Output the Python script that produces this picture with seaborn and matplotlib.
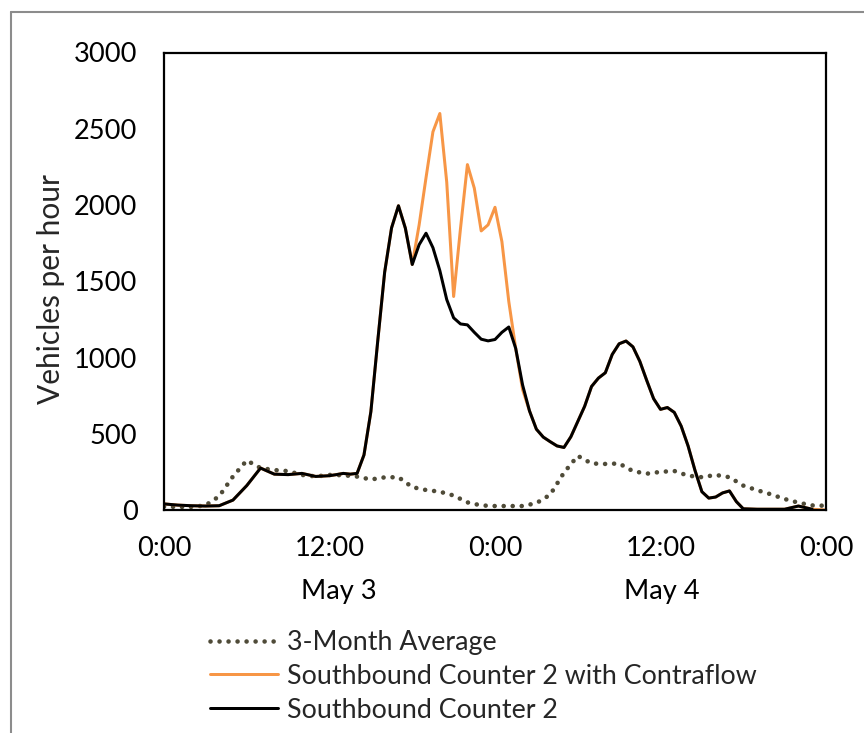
import numpy as np
import pandas as pd
import seaborn as sns
import matplotlib
matplotlib.use("Agg")
import matplotlib.pyplot as plt
from matplotlib.lines import Line2D
import matplotlib.transforms as mtransforms

# ---- data (hours since 0:00 May 3) ----
hours_avg = list(range(0, 49))
avg_3month = [22, 20, 20, 30, 90, 220, 325, 275, 262, 255,
              230, 220, 230, 228, 219, 200, 214, 215, 150, 131,
              120, 95, 50, 30, 26, 26, 26, 45, 100, 245,
              355, 305, 302, 305, 255, 238, 250, 256, 225, 215,
              230, 215, 160, 130, 103, 72, 48, 30, 28]

# counter readings: hourly, half-hourly between 12:30 May 3 and 18:00 May 4
hours_counter = (list(range(0, 13))
                 + [12.5 + 0.5 * i for i in range(60)]
                 + list(range(43, 49)))

counter2 = [40, 32, 28, 26, 28, 65, 160, 275, 235, 232, 240, 220, 225,
            232, 240, 235, 240, 361, 645, 1110, 1560, 1850, 1995,
            1848, 1610, 1740, 1815, 1720, 1570, 1380, 1260, 1220, 1214,
            1165, 1120, 1109, 1118, 1165, 1200, 1060, 820, 650, 530,
            478, 448, 420, 410, 480, 580, 680, 810, 865, 900,
            1020, 1090, 1108, 1070, 975, 850, 730, 660, 672, 640,
            550, 420, 260, 120, 78, 85, 112, 125, 55, 8,
            5, 5, 5, 26, 5, np.nan]

counter2_contraflow = [40, 32, 28, 26, 28, 65, 160, 275, 235, 232, 240, 220, 225,
                       232, 240, 235, 240, 361, 645, 1110, 1560, 1850, 1995,
                       1848, 1610, 1870, 2180, 2480, 2600, 2150, 1400, 1848, 2265,
                       2110, 1830, 1870, 1985, 1760, 1367, 1060, 790, 650, 530,
                       478, 448, 420, 410, 480, 580, 680, 810, 865, 900,
                       1020, 1090, 1108, 1070, 975, 850, 730, 660, 672, 640,
                       550, 420, 260, 120, 78, 85, 112, 125, 55, 8,
                       5, 5, 5, 26, 5, 0]

xtick_pos = [0, 6, 12, 18, 24, 30, 36, 42, 48]
xtick_labels = ["0:00", "", "12:00", "", "0:00", "", "12:00", "", "0:00"]
day_labels = ["May 3", "May 4"]
day_pos = [12.7, 36.1]
yticks = [0, 500, 1000, 1500, 2000, 2500, 3000]

labels = ["3-Month Average", "Southbound Counter 2 with Contraflow", "Southbound Counter 2"]
colors = ["#4f4b38", "#f79646", "#000000"]

df_avg = pd.DataFrame({"hour": hours_avg, "value": avg_3month})
df_cf = pd.DataFrame({"hour": hours_counter, "value": counter2_contraflow})
df_c2 = pd.DataFrame({"hour": hours_counter, "value": counter2}).dropna()

# ---- style ----
sns.set_style("white")
plt.rcParams["font.family"] = ["Lato", "DejaVu Sans"]

W, H = 864, 733
fig = plt.figure(figsize=(W / 100, H / 100), dpi=100)
ax = fig.add_axes([164 / W, 1 - 510 / H, (826 - 164) / W, (510 - 52.5) / H])

px = 100 / 72  # px per pt
FS = 19.6
LFS = 19.3

sns.lineplot(data=df_avg, x="hour", y="value", ax=ax, color=colors[0],
             linewidth=4.6 / px, linestyle=(0, (0.01, 1.95)),
             dash_capstyle="round", label=labels[0])
sns.lineplot(data=df_cf, x="hour", y="value", ax=ax, color=colors[1],
             linewidth=3.0 / px, label=labels[1])
sns.lineplot(data=df_c2, x="hour", y="value", ax=ax, color=colors[2],
             linewidth=3.0 / px, label=labels[2])

ax.set_xlim(0, 48)
ax.set_ylim(0, 3000)
ax.set_xticks(xtick_pos)
ax.set_xticklabels(xtick_labels)
ax.set_yticks(yticks)
ax.set_yticklabels([str(v) for v in yticks])
ax.set_xlabel("")
ax.set_ylabel("Vehicles per hour", fontsize=21.5)
ax.yaxis.set_label_coords(-0.150, 0.483)

for s in ax.spines.values():
    s.set_visible(True)
    s.set_color("black")
    s.set_linewidth(1.6)

ax.tick_params(axis="x", direction="in", length=6.3, width=1.4, pad=18.5,
               labelsize=FS, colors="black")
ax.tick_params(axis="y", direction="in", length=7, width=1.4, pad=19,
               labelsize=FS, colors="black")

# day labels under the tick labels
trans = mtransforms.blended_transform_factory(ax.transData, fig.transFigure)
for lab, pos in zip(day_labels, day_pos):
    fig.text(pos, 1 - 591 / H, lab, transform=trans, ha="center", va="center",
             fontsize=FS, color="black")

# legend
handles, labs = ax.get_legend_handles_labels()
ax.get_legend().remove()
fig.legend(handles, labs, loc="upper left",
           bbox_to_anchor=(210 / W, 1 - 630 / H), frameon=False,
           fontsize=LFS, handlelength=2.55, handletextpad=0.33,
           labelspacing=0.33, borderpad=0, borderaxespad=0)

# figure border (gray, top and left visible)
fig.add_artist(Line2D([11 / W, 1.0], [1 - 11.5 / H, 1 - 11.5 / H],
                      transform=fig.transFigure, color="#8c8c8c", linewidth=1.5))
fig.add_artist(Line2D([11 / W, 11 / W], [0.0, 1 - 11.5 / H],
                      transform=fig.transFigure, color="#8c8c8c", linewidth=1.5))

fig.savefig("out.png", dpi=100)
